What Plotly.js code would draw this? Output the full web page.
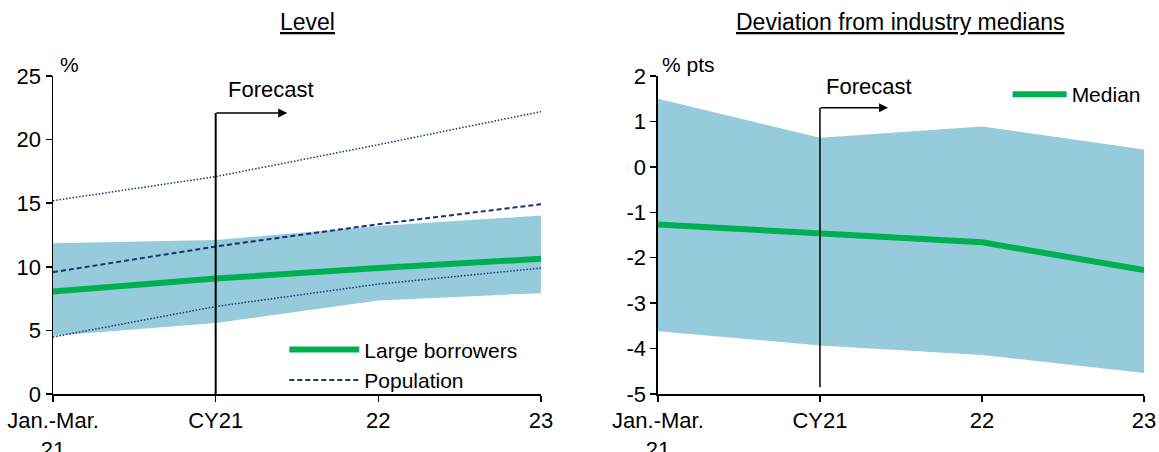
<!DOCTYPE html>
<html>
<head>
<meta charset="utf-8">
<script src="https://cdn.plot.ly/plotly-3.0.1.min.js"></script>
<style>html,body{margin:0;padding:0;background:#fff;}#chart{width:1159px;height:452px;}</style>
</head>
<body>
<div id="chart"></div>
<script>
// Categories / tick labels
const categories = ["Jan.-Mar.<br>21", "CY21", "22", "23"];
const catIndex = [0, 1, 2, 3];

// Left panel: Level (%)
const largeBorrowers = [8.05, 9.08, 9.9, 10.63];
const largeBorrowersUpper = [11.86, 12.1, 13.2, 14.03];
const largeBorrowersLower = [4.58, 5.58, 7.36, 7.93];
const population = [9.58, 11.6, 13.35, 14.92];
const populationUpper = [15.2, 17.09, 19.6, 22.2];
const populationLower = [4.48, 6.88, 8.64, 9.9];
const levelTicks = [0, 5, 10, 15, 20, 25];

// Right panel: Deviation from industry medians (% pts)
const medianDeviation = [-1.27, -1.45, -1.66, -2.27];
const deviationUpper = [1.5, 0.64, 0.89, 0.38];
const deviationLower = [-3.62, -3.93, -4.14, -4.54];
const deviationTicks = [-5, -4, -3, -2, -1, 0, 1, 2];
const deviationTickText = deviationTicks.map(v => String(v));

const GREEN = "#00B050";
const NAVY = "#1A3270";
const BAND = "rgb(150,203,220)";
const FONT = "Liberation Sans, Arial, sans-serif";

const traces = [
  {x: catIndex, y: largeBorrowersLower, mode: "lines", line: {width: 0, color: BAND}, showlegend: false, hoverinfo: "skip", xaxis: "x", yaxis: "y"},
  {x: catIndex, y: largeBorrowersUpper, mode: "lines", line: {width: 0, color: BAND}, fill: "tonexty", fillcolor: BAND, showlegend: false, hoverinfo: "skip", xaxis: "x", yaxis: "y"},
  {x: catIndex, y: populationUpper, mode: "lines", line: {width: 1.5, color: NAVY, dash: "1.5px,1.8px"}, showlegend: false, xaxis: "x", yaxis: "y"},
  {x: catIndex, y: populationLower, mode: "lines", line: {width: 1.5, color: NAVY, dash: "1.5px,1.8px"}, showlegend: false, xaxis: "x", yaxis: "y"},
  {x: catIndex, y: largeBorrowers, name: "Large borrowers", mode: "lines", line: {width: 6, color: GREEN}, xaxis: "x", yaxis: "y", legend: "legend", cliponaxis: false},
  {x: catIndex, y: population, name: "Population", mode: "lines", line: {width: 2, color: NAVY, dash: "5px,3px"}, xaxis: "x", yaxis: "y", legend: "legend"},
  {x: catIndex, y: deviationLower, mode: "lines", line: {width: 0, color: BAND}, showlegend: false, hoverinfo: "skip", xaxis: "x2", yaxis: "y2"},
  {x: catIndex, y: deviationUpper, mode: "lines", line: {width: 0, color: BAND}, fill: "tonexty", fillcolor: BAND, showlegend: false, hoverinfo: "skip", xaxis: "x2", yaxis: "y2"},
  {x: catIndex, y: medianDeviation, name: "Median", mode: "lines", line: {width: 6, color: GREEN}, xaxis: "x2", yaxis: "y2", legend: "legend2", cliponaxis: false}
];

const axisCommon = {
  showgrid: false,
  showline: true,
  linecolor: "#000",
  linewidth: 1.5,
  ticks: "outside",
  ticklen: 6,
  tickwidth: 1.5,
  tickcolor: "#000",
  tickfont: {family: FONT, size: 22, color: "#000"},
  fixedrange: true
};

const xCommon = Object.assign({}, axisCommon, {
  tickmode: "array",
  tickvals: catIndex,
  ticktext: categories,
  range: [0, 3],
  zeroline: false
});

const layout = {
  width: 1159,
  height: 452,
  margin: {l: 53, r: 15, t: 76, b: 58},
  paper_bgcolor: "#fff",
  plot_bgcolor: "rgba(0,0,0,0)",
  font: {family: FONT, size: 22, color: "#000"},
  xaxis: Object.assign({}, xCommon, {domain: [0, 0.4473], anchor: "y"}),
  yaxis: Object.assign({}, axisCommon, {range: [0, 25], tickmode: "array", tickvals: levelTicks, zeroline: false, anchor: "x"}),
  xaxis2: Object.assign({}, xCommon, {domain: [0.5545, 1], anchor: "y2"}),
  yaxis2: Object.assign({}, axisCommon, {range: [-5, 2], tickmode: "array", tickvals: deviationTicks, ticktext: deviationTickText, zeroline: true, zerolinecolor: "#000", zerolinewidth: 1.5, anchor: "x2"}),
  legend: {
    x: 0.212, y: 0.203, xanchor: "left", yanchor: "top",
    bgcolor: "rgba(0,0,0,0)", font: {family: FONT, size: 21, color: "#000"},
    traceorder: "normal", itemwidth: 70, tracegroupgap: 0
  },
  legend2: {
    x: 0.875, y: 1.006, xanchor: "left", yanchor: "top",
    bgcolor: "rgba(0,0,0,0)", font: {family: FONT, size: 21, color: "#000"},
    itemwidth: 54
  },
  shapes: [
    {type: "line", xref: "x", yref: "y", x0: 1, x1: 1, y0: 0, y1: 22.1, line: {color: "#000", width: 2}},
    {type: "line", xref: "x2", yref: "y2", x0: 1, x1: 1, y0: -4.85, y1: 1.3, line: {color: "#000", width: 1.5}}
  ],
  annotations: [
    {text: "<u>Level</u>", xref: "paper", yref: "paper", x: 0.233, y: 1.17, xanchor: "center", yanchor: "middle", showarrow: false, font: {family: FONT, size: 23, color: "#000"}},
    {text: "<u>Deviation from industry medians</u>", xref: "paper", yref: "paper", x: 0.777, y: 1.17, xanchor: "center", yanchor: "middle", showarrow: false, font: {family: FONT, size: 23, color: "#000"}},
    {text: "%", xref: "paper", yref: "paper", x: 0.005, y: 1.035, xanchor: "left", yanchor: "middle", showarrow: false, font: {family: FONT, size: 21, color: "#000"}},
    {text: "% pts", xref: "paper", yref: "paper", x: 0.556, y: 1.035, xanchor: "left", yanchor: "middle", showarrow: false, font: {family: FONT, size: 21, color: "#000"}},
    {text: "Forecast", xref: "x", yref: "y", x: 1.34, y: 23.9, xanchor: "center", yanchor: "middle", showarrow: false, font: {family: FONT, size: 22, color: "#000"}},
    {text: "Forecast", xref: "x2", yref: "y2", x: 1.30, y: 1.76, xanchor: "center", yanchor: "middle", showarrow: false, font: {family: FONT, size: 22, color: "#000"}},
    {text: "", xref: "x", yref: "y", axref: "x", ayref: "y", x: 1.44, y: 22.1, ax: 0.995, ay: 22.1, showarrow: true, arrowhead: 2, arrowsize: 1.2, arrowwidth: 1.5, arrowcolor: "#000"},
    {text: "", xref: "x2", yref: "y2", axref: "x2", ayref: "y2", x: 1.42, y: 1.3, ax: 0.995, ay: 1.3, showarrow: true, arrowhead: 2, arrowsize: 1.2, arrowwidth: 1.5, arrowcolor: "#000"}
  ]
};

Plotly.newPlot("chart", traces, layout, {displayModeBar: false, staticPlot: true});
</script>
</body>
</html>
